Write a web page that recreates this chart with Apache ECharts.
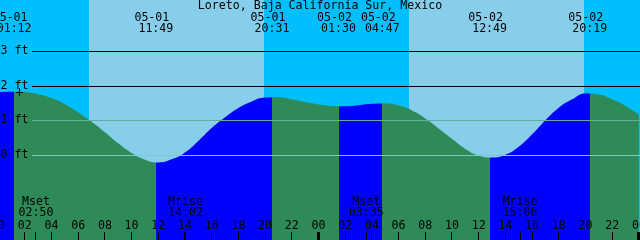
<!DOCTYPE html>
<html><head><meta charset="utf-8">
<script src="https://cdn.jsdelivr.net/npm/echarts@6/dist/echarts.min.js"></script>
<style>html,body{margin:0;padding:0;background:#00BFFF}#c{width:640px;height:240px}</style>
</head><body><div id="c"></div>
<script>
// ---- data (times are hours since 05-01 00:00, heights in ft) ----
const chartTitle = 'Loreto, Baja California Sur, Mexico';
const hourTimes = [0,1,2,3,4,5,6,7,8,9,10,11,12,13,14,15,16,17,18,19,20,21,22,23,24,
  25,26,27,28,29,30,31,32,33,34,35,36,37,38,39,40,41,42,43,44,45,46,47,48];
const tideHeights = [1.82,1.84,1.83,1.77,1.66,1.48,1.24,0.97,0.67,0.35,0.07,-0.12,-0.20,-0.11,0.09,0.42,0.79,1.10,1.37,1.56,1.67,1.68,1.62,1.54,1.47,
  1.43,1.42,1.45,1.49,1.50,1.44,1.30,1.07,0.78,0.48,0.19,0.00,-0.06,0.02,0.25,0.61,1.02,1.38,1.62,1.79,1.76,1.62,1.43,1.18];
const eventTimes = [1.2, 11.817, 20.517, 25.5, 28.783, 36.817, 44.317];
const eventHeights = [1.84, -0.20, 1.70, 1.41, 1.50, -0.06, 1.81];
const eventKinds = ['high','low','high','low','high','low','high'];
const eventDates = ['05-01','05-01','05-01','05-02','05-02','05-02','05-02'];
const eventClock = ['01:12','11:49','20:31','01:30','04:47','12:49','20:19'];
const sunriseTimes = [6.809, 30.779];
const sunsetTimes = [19.918, 43.888];
const moonTimes = [2.833, 14.033, 27.583, 39.1];
const moonNames = ['Mset','Mrise','Mset','Mrise'];
const moonClock = ['02:50','14:02','03:35','15:06'];
const depthLevels = [0, 1, 2, 3];
const depthLabels = ['0 ft','1 ft','2 ft','3 ft'];
const hourTicks = [0,2,4,6,8,10,12,14,16,18,20,22,24,26,28,30,32,34,36,38,40,42,44,46,48];
const hourTickLabels = ['00','02','04','06','08','10','12','14','16','18','20','22','00','02','04','06','08','10','12','14','16','18','20','22','00'];
const markTimes = [1.64];
const markHeights = [1.83];

// ---- styles ----
const FONT = '11.6px "DejaVu Sans Mono"';
const nightColor = '#00BFFF', dayColor = '#87CEEB';
const floodColor = '#0000FF', ebbColor = '#2E8B57';
const depthLineColors = ['#7fc6d3', '#5fae9e', '#000000', '#000000'];

const curve = hourTimes.map((t, i) => [t, tideHeights[i]]);

const pieces = [];
pieces.push({ lt: eventTimes[0], color: eventKinds[0] === 'high' ? floodColor : ebbColor });
for (let i = 0; i < eventTimes.length; i++) {
  const p = { gte: eventTimes[i], color: eventKinds[i] === 'high' ? ebbColor : floodColor };
  if (i + 1 < eventTimes.length) p.lt = eventTimes[i + 1];
  pieces.push(p);
}

function txt(x, y, s, align) {
  return { type: 'text', x: x, y: y, style: { text: s, font: FONT, fill: '#000',
    textAlign: align || 'center', textVerticalAlign: 'middle' } };
}

const chart = echarts.init(document.getElementById('c'), null, { renderer: 'canvas' });
chart.setOption({
  animation: false,
  backgroundColor: nightColor,
  grid: { left: 0, right: 0, top: 0, bottom: 0 },
  xAxis: { type: 'value', min: 0.1423, max: 48.083, show: false },
  yAxis: { type: 'value', min: -2.437, max: 4.485, show: false },
  visualMap: { type: 'piecewise', show: false, dimension: 0, seriesIndex: 1, pieces: pieces },
  graphic: [ { type: 'text', z: 100, x: 320, y: 6, style: { text: chartTitle, font: FONT, fill: '#000',
    textAlign: 'center', textVerticalAlign: 'middle' } } ],
  series: [
    { // day sky
      type: 'custom', z: 1, silent: true,
      data: sunriseTimes.map((s, i) => [s, sunsetTimes[i]]),
      renderItem: function (params, api) {
        const cs = params.coordSys;
        const x1 = Math.round(api.coord([api.value(0), 0])[0]);
        const x2 = Math.round(api.coord([api.value(1), 0])[0]);
        return { type: 'rect', shape: { x: x1, y: cs.y, width: x2 - x1, height: cs.height },
          style: { fill: dayColor } };
      }
    },
    { // water
      type: 'line', z: 2, silent: true, smooth: 0.5, showSymbol: false,
      data: curve,
      lineStyle: { width: 0 },
      areaStyle: { opacity: 1, origin: 'start' }
    },
    { // depth lines + labels
      type: 'custom', z: 3, silent: true,
      data: depthLevels.map(v => [0.2, v]),
      renderItem: function (params, api) {
        const cs = params.coordSys;
        const y = api.coord([0.2, api.value(1)])[1];
        const row = Math.floor(y);
        return { type: 'group', children: [
          { type: 'rect', shape: { x: cs.x + 32, y: row, width: cs.width - 32, height: 1 },
            style: { fill: depthLineColors[params.dataIndex] } },
          txt(cs.x + 0.5, row, depthLabels[params.dataIndex], 'left')
        ] };
      }
    },
    { // "+" mark
      type: 'custom', z: 4, silent: true,
      data: markTimes.map((t, i) => [t, markHeights[i]]),
      renderItem: function (params, api) {
        const p = api.coord([api.value(0), api.value(1)]);
        const x = Math.floor(p[0]), y = Math.floor(p[1]);
        return { type: 'group', children: [
          { type: 'rect', shape: { x: x - 3, y: y, width: 7, height: 1 }, style: { fill: '#000' } },
          { type: 'rect', shape: { x: x, y: y - 4, width: 1, height: 8 }, style: { fill: '#000' } }
        ] };
      }
    },
    { // tide event labels
      type: 'custom', z: 4, silent: true,
      data: eventTimes.map((t, i) => [t, eventHeights[i]]),
      renderItem: function (params, api) {
        const cs = params.coordSys;
        const x = api.coord([api.value(0), 0])[0];
        const i = params.dataIndex;
        return { type: 'group', children: [
          txt(x - 4, cs.y + 17.5, eventDates[i]),
          txt(x, cs.y + 29, eventClock[i])
        ] };
      }
    },
    { // hour ticks
      type: 'custom', z: 4, silent: true,
      data: hourTicks.map(t => [t, 0]),
      renderItem: function (params, api) {
        const cs = params.coordSys;
        const t = api.value(0);
        const x = api.coord([t, 0])[0];
        const bottom = cs.y + cs.height;
        const thick = (t % 24 === 0);
        const rx = thick ? Math.round(x - 1.5) : Math.floor(x);
        return { type: 'group', children: [
          { type: 'rect', shape: { x: rx, y: bottom - 8, width: thick ? 3 : 1, height: 8 }, style: { fill: '#000' } },
          txt(x, bottom - 14.5, hourTickLabels[params.dataIndex])
        ] };
      }
    },
    { // moon events
      type: 'custom', z: 4, silent: true,
      data: moonTimes.map(t => [t, 0]),
      renderItem: function (params, api) {
        const cs = params.coordSys;
        const x = api.coord([api.value(0), 0])[0];
        const bottom = cs.y + cs.height;
        const i = params.dataIndex;
        return { type: 'group', children: [
          { type: 'rect', shape: { x: Math.floor(x), y: bottom - 8, width: 1, height: 8 }, style: { fill: '#000' } },
          txt(x, bottom - 38, moonNames[i]),
          txt(x, bottom - 27, moonClock[i])
        ] };
      }
    }
  ]
});
</script></body></html>
